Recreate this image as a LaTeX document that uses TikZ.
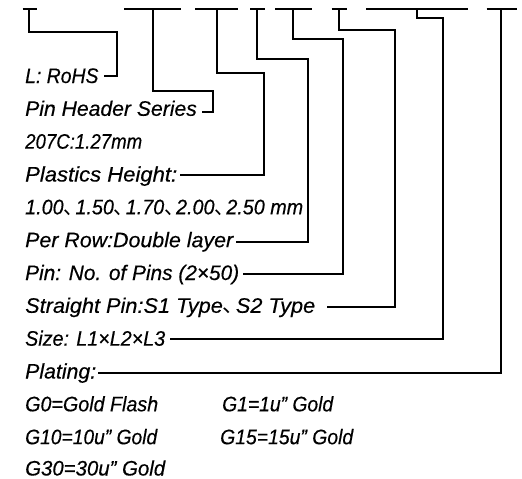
\documentclass[tikz,border=0pt]{standalone}
\usepackage{fontspec}
\usepackage{graphicx}
\setmainfont{Liberation Sans}[ItalicFeatures={FakeBold=0.35}]
\newfontfamily\cjk{Noto Sans CJK SC}
\usetikzlibrary{calc}
\newcommand{\dun}{\makebox[0.6em][l]{\cjk 、}}
\newsavebox\fwbox
\newcommand\fw[2]{\sbox\fwbox{#2}\pgfmathsetmacro\fwsc{#1/\the\wd\fwbox}\scalebox{\fwsc}[1]{\usebox\fwbox}}
\begin{document}
\begin{tikzpicture}[x=1pt,y=-1pt,
  wire/.style={line width=1.8pt},
  lbl/.style={anchor=base west,inner sep=0pt,font=\fontsize{21}{24}\selectfont\itshape}]
\useasboundingbox (0,0) rectangle (522,479);
% text rows
\node[lbl] (t1) at (25,83) {\fw{73.3}{L: RoHS}};
\node[lbl] (t2) at (25,115.8) {\fw{171.7}{Pin Header Series}};
\node[lbl] (t3) at (25,148.7) {\fw{117}{207C:1.27mm}};
\node[lbl] (t4) at (25,181.5) {\fw{152}{Plastics Height:}};
\node[lbl] (t5) at (25,214.3) {\fw{278}{1.00\dun1.50\dun1.70\dun2.00\dun2.50 mm}};
\node[lbl] (t6) at (25,247.2) {\fw{208}{Per Row:Double layer}};
\node[lbl] (t7) at (25,280) {\fw{214}{Pin: No. of Pins (2×50)}};
\node[lbl] (t8) at (25,312.8) {\fw{290}{Straight Pin:S1 Type\dun S2 Type}};
\node[lbl] (t9) at (25,345.7) {\fw{140}{Size: L1×L2×L3}};
\node[lbl] (t10) at (25,378.5) {\fw{71}{Plating:}};
\node[lbl] (g0) at (25,411.3) {\fw{133}{G0=Gold Flash}};
\node[lbl] (g1) at (222,411.3) {\fw{111}{G1=1u" Gold}};
\node[lbl] (g10) at (25,444.2) {\fw{132}{G10=10u" Gold}};
\node[lbl] (g15) at (220,444.2) {\fw{133}{G15=15u" Gold}};
\node[lbl] (g30) at (25,475.5) {\fw{140}{G30=30u" Gold}};
% top dashes
\coordinate (d1a) at (22.7,9.3); \coordinate (d1b) at (37.3,9.3); \coordinate (d1) at (29.3,9.3);
\coordinate (d2a) at (124,9.3); \coordinate (d2b) at (180.7,9.3); \coordinate (d2) at (152.7,9.3);
\coordinate (d3a) at (195,9.3); \coordinate (d3b) at (238.3,9.3); \coordinate (d3) at (217.3,9.3);
\coordinate (d4a) at (250,9.3); \coordinate (d4b) at (265,9.3); \coordinate (d4) at (256.7,9.3);
\coordinate (d5a) at (275,9.3); \coordinate (d5b) at (311.7,9.3); \coordinate (d5) at (293.3,9.3);
\coordinate (d6a) at (331.7,9.3); \coordinate (d6b) at (347.3,9.3); \coordinate (d6) at (339,9.3);
\coordinate (d7a) at (366,9.3); \coordinate (d7b) at (468.3,9.3); \coordinate (d7) at (417.3,9.3);
\coordinate (d8a) at (486.7,9.3); \coordinate (d8b) at (516.7,9.3); \coordinate (d8) at (500.7,9.3);
\foreach \i in {1,...,8} \draw[wire] (d\i a) -- (d\i b);
% bends
\coordinate (k1) at (117.3,31.7);
\coordinate (k2) at (212.7,90.7);
\coordinate (k3) at (264,73.3);
\coordinate (k4) at (308.3,59.3);
\coordinate (k5) at (342.7,39.3);
\coordinate (k6) at (395,30);
\coordinate (k7) at (443.3,17.7);
% connectors
\draw[wire] (d1) |- (k1) |- ($(t1.base east)+(5,-7)$);
\draw[wire] (d2) |- (k2) |- ($(t2.base east)+(5,-4)$);
\draw[wire] (d3) |- (k3) |- ($(t4.base east)+(3,-6.5)$);
\draw[wire] (d4) |- (k4) |- ($(t6.base east)+(3,-5.5)$);
\draw[wire] (d5) |- (k5) |- ($(t7.base east)+(4,-6)$);
\draw[wire] (d6) |- (k6) |- ($(t8.base east)+(12,-6)$);
\draw[wire] (d7) |- (k7) |- ($(t9.base east)+(5,-6.5)$);
\draw[wire] (d8) |- ($(t10.base east)+(2,-5.5)$);
\end{tikzpicture}
\end{document}
